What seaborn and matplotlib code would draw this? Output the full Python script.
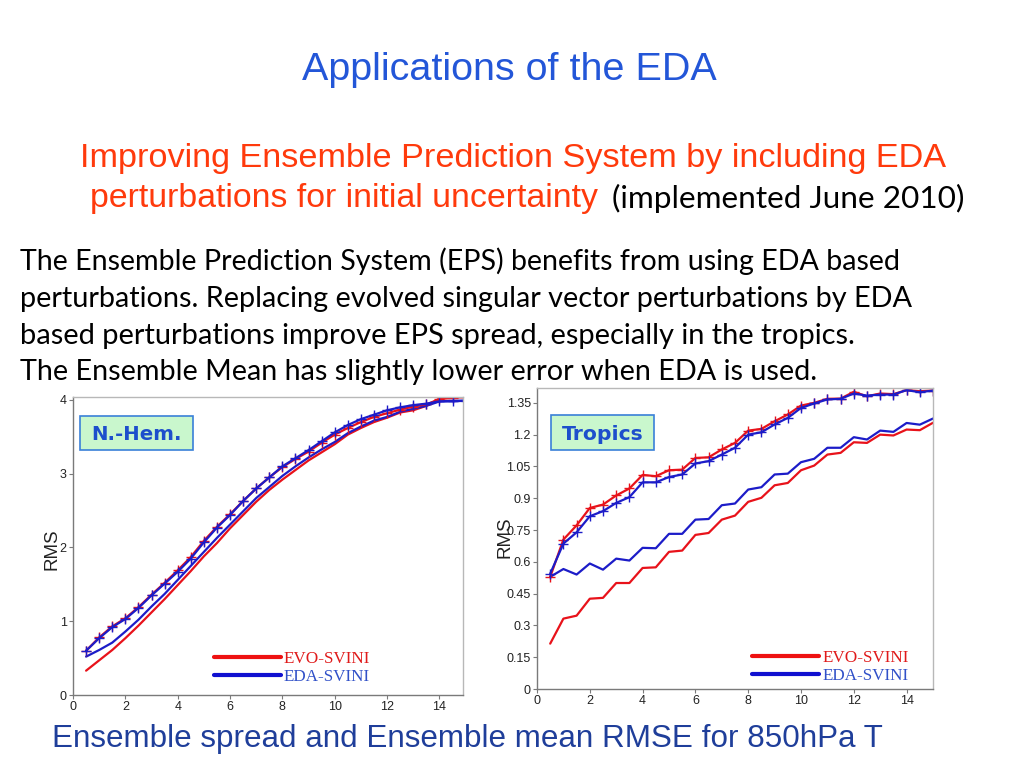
import matplotlib
matplotlib.use("Agg")
import matplotlib.pyplot as plt
from matplotlib.lines import Line2D
from matplotlib.patches import Rectangle
from matplotlib.ticker import FuncFormatter
import seaborn as sns

# ---------------- data ----------------
lead_days = [0.5, 1.0, 1.5, 2.0, 2.5, 3.0, 3.5, 4.0, 4.5, 5.0,
             5.5, 6.0, 6.5, 7.0, 7.5, 8.0, 8.5, 9.0, 9.5, 10.0,
             10.5, 11.0, 11.5, 12.0, 12.5, 13.0, 13.5, 14.0, 14.5, 15.0]

# N.-Hem. (ensemble mean RMSE = with '+', ensemble spread = plain)
nh_evo_rmse = [0.60, 0.78, 0.93, 1.04, 1.19, 1.36, 1.52, 1.69, 1.87, 2.09,
               2.28, 2.45, 2.63, 2.80, 2.95, 3.09, 3.20, 3.30, 3.42, 3.53,
               3.62, 3.70, 3.77, 3.82, 3.87, 3.91, 3.94, 4.01, 4.03, 4.04]
nh_eda_rmse = [0.60, 0.77, 0.92, 1.03, 1.18, 1.35, 1.51, 1.67, 1.85, 2.07,
               2.27, 2.44, 2.63, 2.80, 2.95, 3.10, 3.21, 3.32, 3.44, 3.56,
               3.66, 3.74, 3.80, 3.86, 3.90, 3.93, 3.95, 3.98, 3.98, 3.99]
nh_evo_spread = [0.33, 0.47, 0.61, 0.77, 0.94, 1.12, 1.30, 1.49, 1.68, 1.88,
                 2.06, 2.26, 2.44, 2.62, 2.78, 2.92, 3.05, 3.18, 3.29, 3.40,
                 3.53, 3.62, 3.70, 3.76, 3.83, 3.86, 3.92, 4.02, 4.04, 4.04]
nh_eda_spread = [0.52, 0.61, 0.71, 0.86, 1.02, 1.20, 1.37, 1.56, 1.75, 1.94,
                 2.13, 2.31, 2.49, 2.67, 2.82, 2.97, 3.10, 3.22, 3.33, 3.43,
                 3.55, 3.64, 3.72, 3.77, 3.84, 3.88, 3.92, 3.98, 3.99, 3.99]

# Tropics
tr_evo_rmse = [0.529, 0.705, 0.772, 0.854, 0.870, 0.913, 0.946, 1.010, 1.004, 1.032,
               1.035, 1.090, 1.093, 1.130, 1.161, 1.219, 1.227, 1.263, 1.295, 1.337,
               1.350, 1.369, 1.370, 1.402, 1.381, 1.394, 1.391, 1.410, 1.405, 1.408]
tr_eda_rmse = [0.544, 0.686, 0.739, 0.815, 0.839, 0.878, 0.905, 0.975, 0.975, 1.000,
               1.012, 1.064, 1.075, 1.106, 1.138, 1.200, 1.211, 1.248, 1.279, 1.326,
               1.347, 1.366, 1.369, 1.394, 1.384, 1.389, 1.389, 1.410, 1.400, 1.408]
tr_eda_spread = [0.529, 0.566, 0.540, 0.592, 0.563, 0.615, 0.606, 0.666, 0.664, 0.732,
                 0.732, 0.799, 0.802, 0.867, 0.875, 0.941, 0.952, 1.012, 1.016, 1.070,
                 1.086, 1.138, 1.138, 1.188, 1.177, 1.219, 1.213, 1.255, 1.247, 1.276]
tr_evo_spread = [0.214, 0.332, 0.346, 0.426, 0.430, 0.500, 0.500, 0.571, 0.574, 0.647,
                 0.653, 0.727, 0.736, 0.799, 0.818, 0.883, 0.902, 0.961, 0.972, 1.032,
                 1.054, 1.106, 1.114, 1.164, 1.161, 1.200, 1.196, 1.224, 1.221, 1.256]

nh_yticks = [0, 1, 2, 3, 4]
tr_yticks = [0, 0.15, 0.3, 0.45, 0.6, 0.75, 0.9, 1.05, 1.2, 1.35]
x_ticks = [0, 2, 4, 6, 8, 10, 12, 14]
legend_labels = ["EVO-SVINI", "EDA-SVINI"]

title = "Applications of the EDA"
sub1 = "Improving Ensemble Prediction System by including EDA"
sub2 = "perturbations for initial uncertainty"
sub2b = "(implemented June 2010)"
body = ["The Ensemble Prediction System (EPS) benefits from using EDA based",
        "perturbations. Replacing evolved singular vector perturbations by EDA",
        "based perturbations improve EPS spread, especially in the tropics.",
        "The Ensemble Mean has slightly lower error when EDA is used."]
caption = "Ensemble spread and Ensemble mean RMSE for 850hPa T"

# ---------------- style ----------------
sns.set_theme(style="white")
plt.rcParams["font.family"] = ["Liberation Sans", "DejaVu Sans"]

W, H = 1024, 768
fig = plt.figure(figsize=(W / 100, H / 100), dpi=100)
fig.patch.set_facecolor("white")

RED = "#e8121a"
BLUE = "#1c1cc8"


def px_axes(l, t, r, b):
    return fig.add_axes([l / W, 1 - b / H, (r - l) / W, (b - t) / H])


renderer = fig.canvas.get_renderer()


def fit_text(x, base, s, width, size0, **kw):
    t = fig.text(x / W, 1 - base / H, s, fontsize=size0, va="baseline", ha="left", **kw)
    w = t.get_window_extent(renderer).width
    t.set_fontsize(size0 * width / w)
    return t


def style_axes(ax, ylim, yticks, xlim):
    ax.set_xlim(*xlim)
    ax.set_ylim(*ylim)
    ax.set_xticks(x_ticks)
    ax.set_yticks(yticks)
    ax.yaxis.set_major_formatter(FuncFormatter(lambda v, p: "%g" % v))
    for side in ["left", "bottom"]:
        ax.spines[side].set_color("#7a7a7a")
        ax.spines[side].set_linewidth(1.0)
    for side in ["top", "right"]:
        ax.spines[side].set_color("#b8b8b8")
        ax.spines[side].set_linewidth(1.0)
    ax.tick_params(axis="both", direction="out", length=3, width=0.8, color="#7a7a7a",
                   labelsize=9, labelcolor="#222222", pad=1.5,
                   left=True, bottom=True)
    ax.set_xlabel("")
    ax.set_ylabel("RMS", fontsize=13.5, color="#222222")


def draw_panel(ax, evo_rmse, eda_rmse, evo_spread, eda_spread):
    sns.lineplot(x=lead_days, y=evo_spread, ax=ax, color=RED, linewidth=1.6)
    sns.lineplot(x=lead_days, y=eda_spread, ax=ax, color=BLUE, linewidth=1.6)
    sns.lineplot(x=lead_days, y=evo_rmse, ax=ax, color=RED, linewidth=1.6,
                 marker="+", markersize=7, markeredgewidth=1.0, markeredgecolor=RED)
    sns.lineplot(x=lead_days, y=eda_rmse, ax=ax, color=BLUE, linewidth=1.6,
                 marker="+", markersize=7, markeredgewidth=1.0, markeredgecolor=BLUE)


def add_legend(ax, anchor):
    handles = [Line2D([], [], color="#ee1111", linewidth=3),
               Line2D([], [], color="#1010d0", linewidth=3)]
    leg = ax.legend(handles, legend_labels, loc="upper left", bbox_to_anchor=anchor,
                    frameon=False, handlelength=3.9, handletextpad=0.2,
                    labelspacing=0.1, borderpad=0, borderaxespad=0,
                    prop={"family": "Liberation Serif", "size": 12.3})
    leg.get_texts()[0].set_color("#e01a1a")
    leg.get_texts()[1].set_color("#3050c8")


def add_box(l, t, r, b, label, tx, tw):
    fig.patches.append(Rectangle((l / W, 1 - b / H), (r - l) / W, (b - t) / H,
                                 transform=fig.transFigure, facecolor="#c9f7cd",
                                 edgecolor="#3a80d8", linewidth=1.2, zorder=5))
    t_ = fit_text(tx, (t + b) / 2 + 7.5, label, tw, 13, color="#1d4fcc",
                  fontweight="bold", family="DejaVu Sans", zorder=6)
    return t_


# ---------------- left panel ----------------
ax1 = px_axes(73, 397, 463, 695)
draw_panel(ax1, nh_evo_rmse, nh_eda_rmse, nh_evo_spread, nh_eda_spread)
style_axes(ax1, (0, 4.04), nh_yticks, (0, 14.9))
ax1.yaxis.set_label_coords(-0.032, 0.49)
add_legend(ax1, (0.3615, 0.148))

# ---------------- right panel ----------------
ax2 = px_axes(537, 388, 933, 689)
draw_panel(ax2, tr_evo_rmse, tr_eda_rmse, tr_evo_spread, tr_eda_spread)
style_axes(ax2, (0, 1.42), tr_yticks, (0, 15))
ax2.yaxis.set_label_coords(-0.06, 0.505)
add_legend(ax2, (0.543, 0.128))

add_box(80, 416, 193, 450, "N.-Hem.", 91, 90)
add_box(551, 415, 654, 450, "Tropics", 562, 81)

# ---------------- slide texts ----------------
fit_text(302, 80, title, 415, 25, color="#2356d8")
fit_text(80, 167, sub1, 865, 22, color="#ff3a0c")
fit_text(90, 207, sub2, 507, 22, color="#ff3a0c")
fit_text(612, 208, sub2b, 353, 20, color="black", family=["Lato", "DejaVu Sans"])
body_widths = [883, 895, 837, 798]
body_bases = [270, 307, 344, 380]
for s, w, b in zip(body, body_widths, body_bases):
    fit_text(20, b, s, w, 20, color="black", family=["Lato", "DejaVu Sans"])
fit_text(52, 747, caption, 828, 22, color="#1f3e9a")

fig.savefig("out.png", dpi=100, facecolor="white")
